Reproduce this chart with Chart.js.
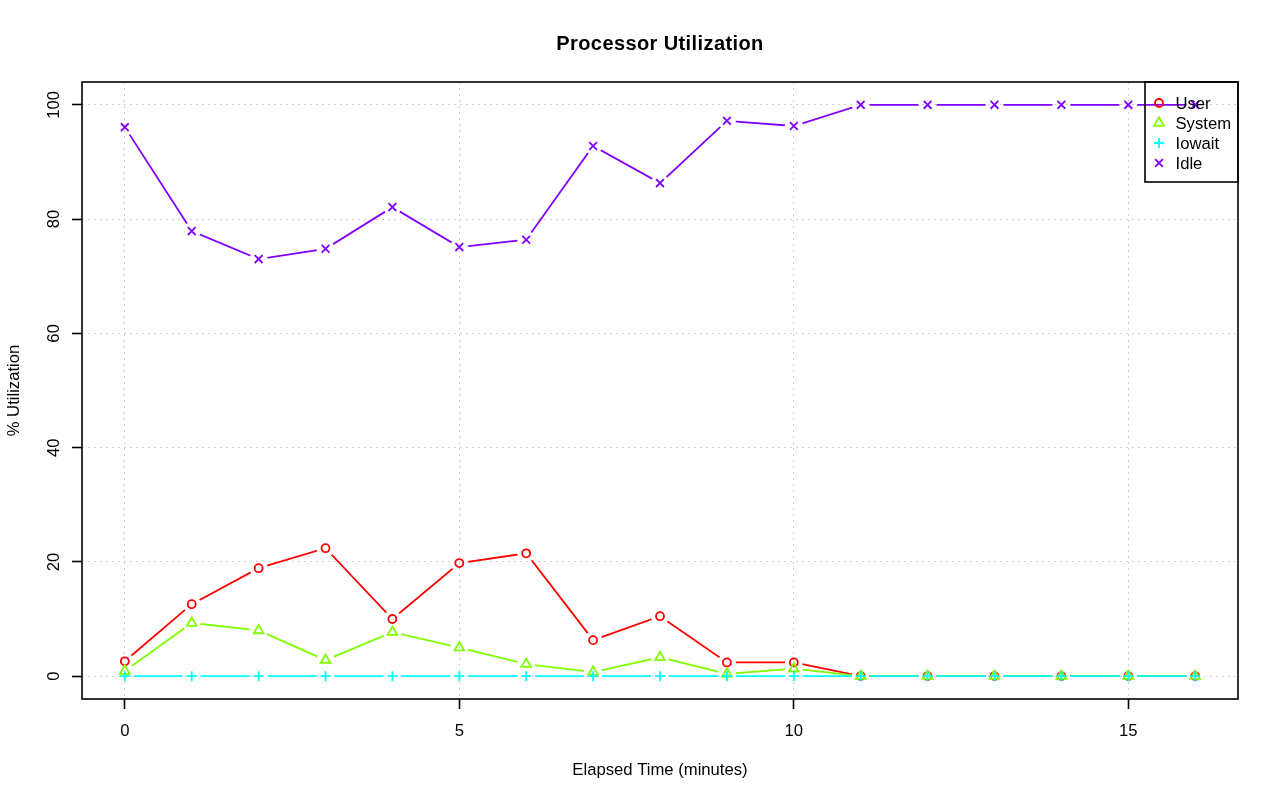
<!DOCTYPE html>
<html>
<head>
<meta charset="utf-8">
<script src="https://cdn.jsdelivr.net/npm/chart.js@4.4.1/dist/chart.umd.min.js"></script>
<style>
html,body{margin:0;padding:0;background:#ffffff;}
#wrap{width:1280px;height:801px;position:relative;}
</style>
</head>
<body>
<div id="wrap"><canvas id="c" width="1280" height="801"></canvas></div>
<script>
// ---- data ----
const elapsedMinutes = [0, 1, 2, 3, 4, 5, 6, 7, 8, 9, 10, 11, 12, 13, 14, 15, 16];
const userPct   = [2.6, 12.6, 18.9, 22.4, 10.0, 19.8, 21.5, 6.3, 10.5, 2.4, 2.4, 0, 0, 0, 0, 0, 0];
const systemPct = [0.9, 9.3, 8.0, 2.8, 7.7, 5.0, 2.1, 0.7, 3.3, 0.4, 1.3, 0, 0, 0, 0, 0, 0];
const iowaitPct = [0, 0, 0, 0, 0, 0, 0, 0, 0, 0, 0, 0, 0, 0, 0, 0, 0];
const idlePct   = [96.1, 77.9, 73.0, 74.8, 82.1, 75.1, 76.4, 92.8, 86.3, 97.2, 96.3, 100, 100, 100, 100, 100, 100];
const seriesLabels = ['User', 'System', 'Iowait', 'Idle'];
const xTickValues = [0, 5, 10, 15];
const yTickValues = [0, 20, 40, 60, 80, 100];
const chartTitle = 'Processor Utilization';
const xAxisTitle = 'Elapsed Time (minutes)';
const yAxisTitle = '% Utilization';

// ---- styling ----
const FONT = "'Liberation Sans', Arial, Helvetica, sans-serif";
const FS = 16.67;
const seriesValues = [userPct, systemPct, iowaitPct, idlePct];
const seriesColors = ['#FF0000', '#80FF00', '#00FFFF', '#8000FF'];
const seriesShapes = ['circle', 'triangle', 'cross', 'crossRot'];
const seriesRadius = [4, 5.6, 5, 5.5];
const GAP = 9;

function toPoints(vals) {
  return elapsedMinutes.map((x, i) => ({x: x, y: vals[i]}));
}

const datasets = [];
seriesLabels.forEach((label, i) => {
  const base = 8 - i * 2;
  datasets.push({
    label: label,
    data: toPoints(seriesValues[i]),
    borderColor: seriesColors[i],
    borderWidth: 1.8,
    pointRadius: 0,
    pointHoverRadius: 0,
    tension: 0,
    fill: false,
    order: base,
    gapLine: true
  });
  datasets.push({
    label: label + ' points',
    data: toPoints(seriesValues[i]),
    showLine: false,
    pointStyle: seriesShapes[i],
    pointRadius: seriesRadius[i],
    pointHoverRadius: seriesRadius[i],
    pointBorderColor: seriesColors[i],
    pointBackgroundColor: 'rgba(0,0,0,0)',
    pointBorderWidth: 1.8,
    order: base - 1
  });
});

// Lines stop short of each marker (R type "b")
const gapPlugin = {
  id: 'gapPlugin',
  beforeDatasetDraw(chart, args) {
    const ds = chart.data.datasets[args.index];
    if (!ds.gapLine) return;
    const ctx = chart.ctx;
    ctx.save();
    ctx.beginPath();
    ctx.rect(0, 0, chart.width, chart.height);
    args.meta.data.forEach(p => {
      ctx.moveTo(p.x + GAP, p.y);
      ctx.arc(p.x, p.y, GAP, 0, Math.PI * 2);
    });
    ctx.clip('evenodd');
  },
  afterDatasetDraw(chart, args) {
    const ds = chart.data.datasets[args.index];
    if (!ds.gapLine) return;
    chart.ctx.restore();
  }
};

const decorPlugin = {
  id: 'decorPlugin',
  afterDraw(chart) {
    const ctx = chart.ctx;
    const a = chart.chartArea;
    ctx.save();
    // plot box
    ctx.strokeStyle = '#000';
    ctx.lineWidth = 1.6;
    ctx.strokeRect(a.left, a.top, a.right - a.left, a.bottom - a.top);

    // rotated y tick labels
    const ys = chart.scales.y;
    ctx.fillStyle = '#000';
    ctx.font = FS + 'px ' + FONT;
    ys.ticks.forEach(t => {
      const py = ys.getPixelForValue(t.value);
      ctx.save();
      ctx.translate(a.left - 23, py);
      ctx.rotate(-Math.PI / 2);
      ctx.textAlign = 'center';
      ctx.textBaseline = 'alphabetic';
      ctx.fillText(String(t.value), 0, 0);
      ctx.restore();
    });

    // main title
    ctx.save();
    ctx.font = 'bold 20px ' + FONT;
    if ('letterSpacing' in ctx) ctx.letterSpacing = '0.4px';
    ctx.textAlign = 'center';
    ctx.textBaseline = 'alphabetic';
    ctx.fillText(chartTitle, (a.left + a.right) / 2, 50);
    ctx.restore();

    // legend
    const lx = 1145, ly = a.top, lw = a.right - 1145, lh = 100;
    ctx.lineWidth = 1.6;
    ctx.strokeStyle = '#000';
    ctx.strokeRect(lx, ly, lw, lh);
    ctx.font = FS + 'px ' + FONT;
    ctx.textAlign = 'left';
    ctx.textBaseline = 'alphabetic';
    seriesLabels.forEach((label, i) => {
      const ry = 103 + i * 20;
      ctx.save();
      ctx.strokeStyle = seriesColors[i];
      ctx.fillStyle = 'rgba(0,0,0,0)';
      ctx.lineWidth = 1.8;
      Chart.helpers.drawPoint(ctx, {pointStyle: seriesShapes[i], radius: seriesRadius[i], rotation: 0, borderWidth: 1.8}, 1159, ry);
      ctx.restore();
      ctx.fillStyle = '#000';
      ctx.fillText(label, 1175.5, ry + 6);
    });
    ctx.restore();
  }
};

const axisCommon = {
  type: 'linear',
  z: 1,
  border: {display: false, dash: [2, 4]},
  grid: {
    color: '#D3D3D3',
    lineWidth: 1,
    drawTicks: true,
    tickLength: 10,
    tickColor: '#000',
    tickWidth: 1.6,
    tickBorderDash: []
  }
};

new Chart(document.getElementById('c'), {
  type: 'line',
  data: {datasets: datasets},
  options: {
    responsive: false,
    animation: false,
    devicePixelRatio: 1,
    layout: {padding: {top: 82, right: 42, left: 0, bottom: 0}},
    plugins: {legend: {display: false}, tooltip: {enabled: false}, title: {display: false}},
    events: [],
    scales: {
      x: Object.assign({}, axisCommon, {
        position: 'bottom',
        min: -0.64,
        max: 16.64,
        afterBuildTicks(s) { s.ticks = xTickValues.map(v => ({value: v})); },
        afterFit(s) { s.height = 102; },
        ticks: {color: '#000', font: {family: FONT, size: FS}, padding: 12.5, maxRotation: 0, autoSkip: false},
        title: {display: true, text: xAxisTitle, color: '#000', font: {family: FONT, size: FS}, padding: {top: 0, bottom: 20.6}}
      }),
      y: Object.assign({}, axisCommon, {
        position: 'left',
        min: -4,
        max: 104,
        afterBuildTicks(s) { s.ticks = yTickValues.map(v => ({value: v})); },
        afterFit(s) { s.width = 82; },
        ticks: {display: false},
        title: {display: true, text: yAxisTitle, color: '#000', font: {family: FONT, size: FS}, padding: {top: 4.5, bottom: 0}}
      })
    }
  },
  plugins: [gapPlugin, decorPlugin]
});
</script>
</body>
</html>
